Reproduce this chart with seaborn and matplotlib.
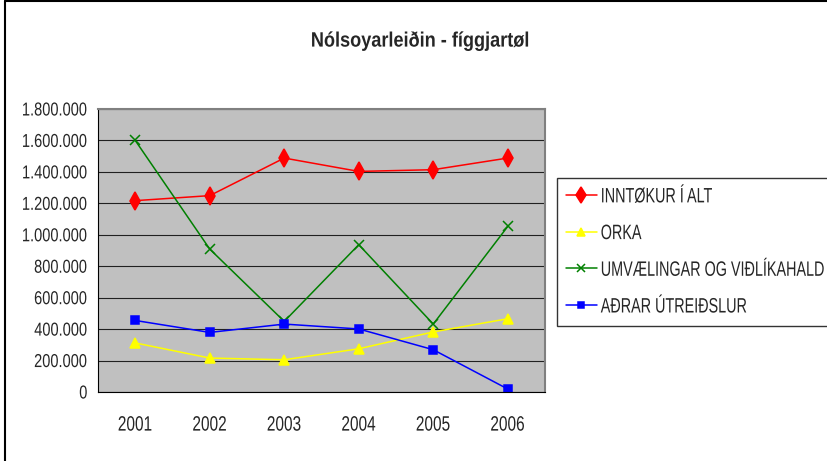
import numpy as np
import pandas as pd
import matplotlib
matplotlib.use("Agg")
import matplotlib.pyplot as plt
import matplotlib.ticker as mticker
from matplotlib.lines import Line2D
from matplotlib.patheffects import AbstractPathEffect
from matplotlib.transforms import Affine2D
import seaborn as sns

years = [2001, 2002, 2003, 2004, 2005, 2006]
inntokur = [1217000, 1249000, 1488000, 1403000, 1414000, 1488000]
orka = [312000, 216000, 205000, 275000, 382000, 466000]
umvaelingar = [1600000, 909000, 449000, 937000, 432000, 1053000]
adrar = [455000, 379000, 432000, 401000, 269000, 19000]

series_names = ["INNTØKUR Í ALT", "ORKA", "UMVÆLINGAR OG VIÐLÍKAHALD", "AÐRAR ÚTREIÐSLUR"]
series_values = [inntokur, orka, umvaelingar, adrar]
colors = ["#FF0000", "#FFFF00", "#008000", "#0000FF"]
markers = ["d", "^", "x", "s"]
marker_sizes = [9, 6.5, 7, 5.8]

df = pd.DataFrame({
    "year": years * len(series_names),
    "value": [v for vals in series_values for v in vals],
    "series": [n for n in series_names for _ in years],
})


class Squeeze(AbstractPathEffect):
    """Draw text horizontally condensed (the original uses a narrow font)."""

    def __init__(self, sx=0.72, anchor="left"):
        super().__init__()
        self.sx = sx
        self.anchor = anchor

    def draw_path(self, renderer, gc, tpath, affine, rgbFace=None):
        w = tpath.get_extents().x1
        shift = {"left": 0, "center": (1 - self.sx) * w / 2, "right": (1 - self.sx) * w}[self.anchor]
        renderer.draw_path(gc, tpath, Affine2D().scale(self.sx, 1).translate(shift, 0) + affine, rgbFace)


sns.set_style("white")
plt.rcParams["font.family"] = ["Liberation Sans", "DejaVu Sans"]

fig = plt.figure(figsize=(8.27, 4.61), dpi=100)
ax = fig.add_axes([98 / 827, 69 / 461, 447 / 827, 283 / 461])

# one call per series (seaborn can't mix filled and line-art markers)
for name, c, m, ms in zip(series_names, colors, markers, marker_sizes):
    sns.lineplot(data=df[df["series"] == name], x="year", y="value",
                 color=c, marker=m, markersize=ms, markerfacecolor=c,
                 markeredgecolor=c, markeredgewidth=1.1, linewidth=1.1,
                 legend=False, ax=ax)

ax.set_facecolor("#C0C0C0")
ax.set_xlim(2000.5, 2006.5)
ax.set_ylim(0, 1800000)
ax.set_yticks(list(range(0, 1800001, 200000)))
ax.yaxis.set_major_formatter(mticker.FuncFormatter(lambda v, p: f"{int(v):,}".replace(",", ".")))
ax.grid(axis="y", color="#202020", linewidth=0.8)
ax.set_axisbelow(True)

ax.set_xticks([y - 0.5 for y in years] + [2006.5])
ax.set_xticklabels([])
ax.set_xticks(years, minor=True)
ax.set_xticklabels([str(y) for y in years], minor=True)
ax.tick_params(axis="x", which="major", direction="out", length=4.5, width=0.8, color="black")
ax.tick_params(axis="x", which="minor", length=0, pad=17, labelsize=15)
ax.tick_params(axis="y", direction="out", length=4, width=0.8, color="black", labelsize=13.5, pad=3.5)
ax.set_xlabel("")
ax.set_ylabel("")

for lbl in ax.get_yticklabels():
    lbl.set_path_effects([Squeeze(0.78, "right")])
for lbl in ax.get_xticklabels(minor=True):
    lbl.set_path_effects([Squeeze(0.74, "center")])

for side in ["left", "bottom"]:
    ax.spines[side].set_color("black")
    ax.spines[side].set_linewidth(0.8)
for side in ["top", "right"]:
    ax.spines[side].set_color("#808080")
    ax.spines[side].set_linewidth(1.5)

title = fig.text(421 / 827, 1 - 41 / 461, "Nólsoyarleiðin - fíggjartøl", ha="center", va="center",
                 fontsize=15, fontweight="bold")
title.set_path_effects([Squeeze(0.87, "center")])

handles = [Line2D([0], [0], color=c, marker=m, markersize=ms * 0.85, markerfacecolor=c,
                  markeredgecolor=c, markeredgewidth=1.1, linewidth=1.1)
           for c, m, ms in zip(colors, markers, marker_sizes)]
leg = fig.legend(handles, series_names, loc="upper left",
                 bbox_to_anchor=(557 / 827, 1 - 178 / 461), frameon=True, fancybox=False,
                 fontsize=15, handlelength=1.45, handletextpad=0.2, labelspacing=0.85,
                 borderpad=0.45, borderaxespad=0)
leg.get_frame().set_edgecolor("black")
leg.get_frame().set_linewidth(1)
for t in leg.get_texts():
    t.set_path_effects([Squeeze(0.69, "left")])

# outer chart frame (top and left edges visible)
fig.add_artist(Line2D([5 / 827, 1], [1 - 1.5 / 461, 1 - 1.5 / 461], color="black", linewidth=1.5))
fig.add_artist(Line2D([5 / 827, 5 / 827], [0, 1 - 1.5 / 461], color="black", linewidth=1.5))

fig.savefig("out.png", dpi=100)
